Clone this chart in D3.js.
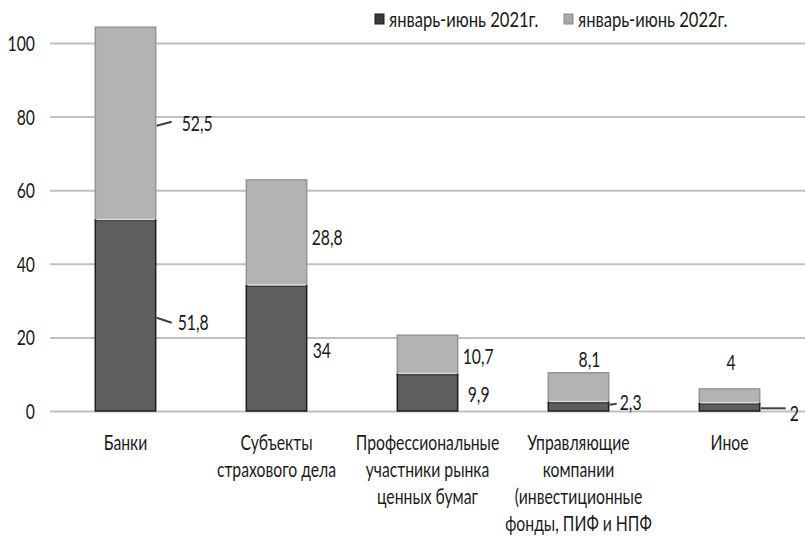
<!DOCTYPE html>
<html>
<head>
<meta charset="utf-8">
<script src="https://cdn.jsdelivr.net/npm/d3@7"></script>
<style>
  html, body { margin: 0; padding: 0; background: #fff; }
  svg text { font-family: Lato, "Open Sans", sans-serif; fill: #1a1a1a; }
</style>
</head>
<body>
<svg id="chart" width="805" height="537"></svg>
<script>
// Sector categories (line breaks mark label wrapping)
const categories = [
  "Банки",
  "Субъекты\nстрахового дела",
  "Профессиональные\nучастники рынка\nценных бумаг",
  "Управляющие\nкомпании\n(инвестиционные\nфонды, ПИФ и НПФ",
  "Иное"
];
const seriesNames = ["январь-июнь 2021г.", "январь-июнь 2022г."];
const values2021 = [51.8, 34, 9.9, 2.3, 2];
const values2022 = [52.5, 28.8, 10.7, 8.1, 4];
const yTicks = [0, 20, 40, 60, 80, 100];
const labels2021 = ["51,8", "34", "9,9", "2,3", "2"];
const labels2022 = ["52,5", "28,8", "10,7", "8,1", "4"];

// Text is drawn horizontally condensed
const SX = 0.75;
const SX_LEGEND = 0.79;
const FONT = 21;

const svg = d3.select("#chart");

const x = d3.scaleBand().domain(categories).range([50, 805])
  .paddingInner(0.6).paddingOuter(0.3);
const y = d3.scaleLinear().domain([0, 100]).range([411, 43]);

function squeeze(sel, tx, ty, sx = SX) {
  sel.attr("transform", `translate(${tx},${ty}) scale(${sx},1)`);
}

// Gridlines and y tick labels
const yAxis = svg.append("g")
  .attr("transform", "translate(50,0)")
  .call(d3.axisLeft(y).tickValues(yTicks).tickSizeInner(-755).tickSizeOuter(0).tickPadding(15));
yAxis.select(".domain").remove();
yAxis.selectAll(".tick line").attr("stroke", "#c0c0c0").attr("stroke-width", 2);
yAxis.selectAll(".tick text")
  .attr("x", 0)
  .attr("dy", "0.36em")
  .style("font-size", FONT + "px")
  .style("font-family", "Lato, 'Open Sans', sans-serif")
  .attr("fill", "#1a1a1a")
  .attr("transform", `translate(-15,0) scale(${SX},1)`);

// Stacked bars
const rows = categories.map((c, i) => ({ c, a: values2021[i], b: values2022[i] }));
const bars = svg.append("g");

// upper segment (2022)
bars.selectAll("rect.top").data(rows).join("rect")
  .attr("class", "top")
  .attr("x", d => x(d.c))
  .attr("width", x.bandwidth())
  .attr("y", d => y(d.a + d.b))
  .attr("height", d => y(d.a) - y(d.a + d.b))
  .attr("fill", "#b3b3b3")
  .attr("stroke", "#959595")
  .attr("stroke-width", 1.5);

// lower segment (2021)
bars.selectAll("rect.bottom").data(rows).join("rect")
  .attr("class", "bottom")
  .attr("x", d => x(d.c))
  .attr("width", x.bandwidth())
  .attr("y", d => y(d.a))
  .attr("height", d => y(0) - y(d.a))
  .attr("fill", "#5e5e5e")
  .attr("stroke", "#1e1e1e")
  .attr("stroke-width", 1.5);

// light bevel between segments
bars.selectAll("line.sep").data(rows).join("line")
  .attr("x1", d => x(d.c) + 1)
  .attr("x2", d => x(d.c) + x.bandwidth() - 1)
  .attr("y1", d => y(d.a) - 1)
  .attr("y2", d => y(d.a) - 1)
  .attr("stroke", "#dcdcdc")
  .attr("stroke-width", 1.5);

// Value labels: placement nudges relative to each segment
const place2021 = [
  { dx: 22, dy: 7, leader: [1, 2, 16, 7] },
  { dx: 6, dy: 2 },
  { dx: 10, dy: 2 },
  { dx: 11, dy: -4, leader: [1, -2, 8, -3] },
  { dx: 30, dy: 6, leader: [1, 1, 26, 1] }
];
const place2022 = [
  { dx: 26, dy: 0, leader: [1, 2, 16, -2] },
  { dx: 5, dy: 5 },
  { dx: 5, dy: 2 },
  { mode: "above", dx: 11, dy: -13 },
  { mode: "above", dx: 1.5, dy: -26 }
];

const lab = svg.append("g");
function addLabel(i, text, lo, hi, p) {
  const right = x(categories[i]) + x.bandwidth();
  const mid = y((lo + hi) / 2);
  let tx, ty, anchor = "start";
  if (p.mode === "above") {
    tx = x(categories[i]) + x.bandwidth() / 2 + p.dx;
    ty = y(hi) + p.dy;
    anchor = "middle";
  } else {
    tx = right + p.dx;
    ty = mid + p.dy;
  }
  if (p.leader) {
    const [a, b, c, d] = p.leader;
    lab.append("line")
      .attr("x1", right + a).attr("y1", mid + b)
      .attr("x2", right + c).attr("y2", mid + d)
      .attr("stroke", "#404040").attr("stroke-width", 2);
  }
  lab.append("text")
    .attr("text-anchor", anchor)
    .attr("dy", "0.36em")
    .style("font-size", FONT + "px")
    .text(text)
    .call(squeeze, tx, ty);
}
rows.forEach((d, i) => {
  addLabel(i, labels2021[i], 0, d.a, place2021[i]);
  addLabel(i, labels2022[i], d.a, d.a + d.b, place2022[i]);
});

// Category labels
const cat = svg.append("g");
categories.forEach(c => {
  const t = cat.append("text")
    .attr("text-anchor", "middle")
    .style("font-size", FONT + "px")
    .call(squeeze, x(c) + x.bandwidth() / 2, 450);
  c.split("\n").forEach((line, k) => {
    t.append("tspan").attr("x", 0).attr("dy", k === 0 ? 0 : 27).text(line);
  });
});

// Legend
const legendX = [375, 564];
const legendFill = ["#3a3a3a", "#a8a8a8"];
const legendStroke = ["#1a1a1a", "#8a8a8a"];
const legend = svg.append("g");
seriesNames.forEach((name, i) => {
  legend.append("rect")
    .attr("x", legendX[i]).attr("y", 14)
    .attr("width", 9).attr("height", 10)
    .attr("fill", legendFill[i]).attr("stroke", legendStroke[i]).attr("stroke-width", 1);
  legend.append("text")
    .attr("dy", "0.36em")
    .style("font-size", FONT + "px")
    .text(name)
    .call(squeeze, legendX[i] + 14, 19, SX_LEGEND);
});
</script>
</body>
</html>
